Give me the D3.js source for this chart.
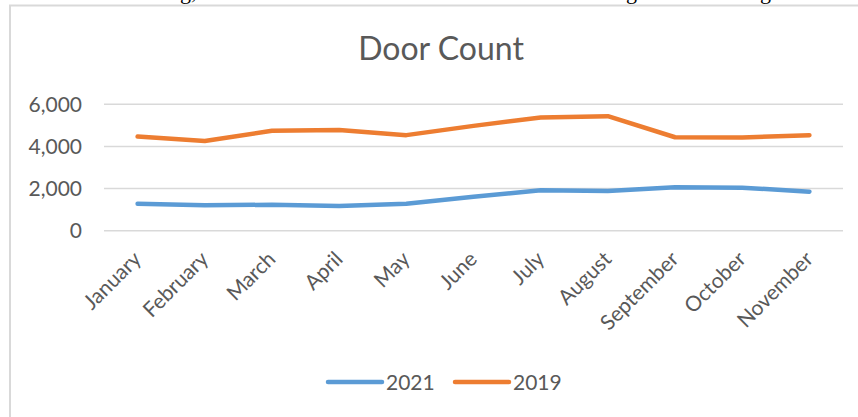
<!DOCTYPE html>
<html>
<head>
<meta charset="utf-8">
<script src="https://cdn.jsdelivr.net/npm/d3@7"></script>
<style>
  body { margin: 0; background: #fff; }
  text { font-family: Lato, "Open Sans", sans-serif; fill: #595959; }
</style>
</head>
<body>
<div id="chart"></div>
<script>
// Data
var months = ["January", "February", "March", "April", "May", "June", "July", "August", "September", "October", "November"];
var count2021 = [1260, 1190, 1210, 1150, 1260, 1590, 1900, 1860, 2040, 2020, 1830];
var count2019 = [4440, 4230, 4720, 4750, 4510, 4950, 5350, 5410, 4410, 4400, 4510];
var yTicks = [0, 2000, 4000, 6000];
var seriesNames = ["2021", "2019"];
var seriesColors = ["#5B9BD5", "#ED7D31"];

// SVG size and plot area
var svgWidth = 858;
var svgHeight = 417;
var plot = { left: 104, right: 843, top: 103.7, bottom: 230.3 };

var svg = d3.select("#chart")
    .append("svg")
    .attr("width", svgWidth)
    .attr("height", svgHeight);

// cut-off text from the page above the chart
svg.append("g").selectAll("text")
    .data([{ t: "g,", x: 180 }, { t: "g", x: 626 }, { t: "g", x: 760 }])
    .enter()
    .append("text")
    .attr("x", d => d.x)
    .attr("y", -1)
    .style("font-family", "'Liberation Serif', serif")
    .style("font-size", "22px")
    .style("fill", "#000")
    .text(d => d.t);

// chart border
svg.append("path")
    .attr("d", "M10," + svgHeight + "V5.5H" + svgWidth)
    .attr("fill", "none")
    .attr("stroke", "#D9D9D9")
    .attr("stroke-width", 2);

// scales
var xScale = d3.scalePoint()
    .domain(months)
    .range([plot.left, plot.right])
    .padding(0.5);

var yScale = d3.scaleLinear()
    .domain([0, 6000])
    .range([plot.bottom, plot.top]);

// gridlines
svg.append("g")
    .attr("transform", `translate(${plot.left}, 0)`)
    .call(d3.axisRight(yScale).tickValues(yTicks).tickSize(plot.right - plot.left).tickFormat(""))
    .call(g => g.select(".domain").remove())
    .call(g => g.selectAll("line").attr("stroke", "#D9D9D9").attr("stroke-width", 1.5));

// y axis labels
svg.append("g")
    .attr("transform", `translate(${plot.left - 22}, 0)`)
    .call(d3.axisLeft(yScale).tickValues(yTicks).tickSize(0).tickPadding(0).tickFormat(d3.format(",")))
    .call(g => g.select(".domain").remove())
    .call(g => g.selectAll("text")
        .attr("dy", "0.36em")
        .style("font-size", "21px")
        .style("fill", "#595959")
        .style("font-family", "Lato, sans-serif"));

// x axis labels
svg.append("g")
    .attr("transform", "translate(0, 250)")
    .call(d3.axisBottom(xScale).tickSize(0).tickPadding(0))
    .call(g => g.select(".domain").remove())
    .call(g => g.selectAll("text")
        .attr("text-anchor", "end")
        .attr("dy", "0.7em")
        .attr("transform", "translate(-6, 0) rotate(-45)")
        .style("font-size", "21px")
        .style("fill", "#595959")
        .style("font-family", "Lato, sans-serif"));

// lines
var line = d3.line()
    .x((d, i) => xScale(months[i]))
    .y(d => yScale(d));

[count2021, count2019].forEach(function (values, k) {
    svg.append("path")
        .datum(values)
        .attr("d", line)
        .attr("fill", "none")
        .attr("stroke", seriesColors[k])
        .attr("stroke-width", 4.5)
        .attr("stroke-linecap", "round")
        .attr("stroke-linejoin", "round");
});

// title
svg.append("text")
    .attr("x", 441)
    .attr("y", 60)
    .attr("text-anchor", "middle")
    .style("font-size", "32px")
    .text("Door Count");

// legend
var legend = svg.append("g").attr("transform", "translate(0, 382)");
var legendX = [328, 455];
seriesNames.forEach(function (name, k) {
    legend.append("line")
        .attr("x1", legendX[k])
        .attr("x2", legendX[k] + 54)
        .attr("y1", 0)
        .attr("y2", 0)
        .attr("stroke", seriesColors[k])
        .attr("stroke-width", 4.5)
        .attr("stroke-linecap", "round");
    legend.append("text")
        .attr("x", legendX[k] + 58)
        .attr("y", 0)
        .attr("dy", "0.36em")
        .style("font-size", "21px")
        .text(name);
});
</script>
</body>
</html>
